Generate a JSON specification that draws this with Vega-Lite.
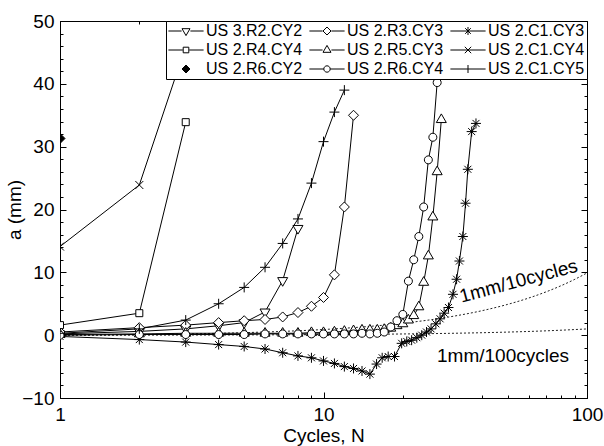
{
  "$schema": "https://vega.github.io/schema/vega-lite/v6.json",
  "width": 527,
  "height": 377,
  "autosize": {"type": "none"},
  "padding": {"left": 60, "top": 21, "right": 17, "bottom": 48},
  "config": {
    "font": "Liberation Sans",
    "view": {"stroke": "black", "strokeWidth": 1}
  },
  "datasets": {
    "main": [
      {"s": "US 3.R2.CY2", "x": 1, "y": 0.2}, {"s": "US 3.R2.CY2", "x": 2, "y": 0.6}, {"s": "US 3.R2.CY2", "x": 3, "y": 1.0}, {"s": "US 3.R2.CY2", "x": 4, "y": 1.5}, {"s": "US 3.R2.CY2", "x": 5, "y": 2.0}, {"s": "US 3.R2.CY2", "x": 6, "y": 3.7}, {"s": "US 3.R2.CY2", "x": 7, "y": 8.7}, {"s": "US 3.R2.CY2", "x": 8, "y": 17.0},
      {"s": "US 2.R3.CY3", "x": 1, "y": 0.5}, {"s": "US 2.R3.CY3", "x": 2, "y": 1.2}, {"s": "US 2.R3.CY3", "x": 3, "y": 1.6}, {"s": "US 2.R3.CY3", "x": 4, "y": 2.0}, {"s": "US 2.R3.CY3", "x": 5, "y": 2.3}, {"s": "US 2.R3.CY3", "x": 6, "y": 2.5}, {"s": "US 2.R3.CY3", "x": 7, "y": 2.9}, {"s": "US 2.R3.CY3", "x": 8, "y": 3.6}, {"s": "US 2.R3.CY3", "x": 9, "y": 4.6}, {"s": "US 2.R3.CY3", "x": 10, "y": 6.0}, {"s": "US 2.R3.CY3", "x": 11, "y": 9.6}, {"s": "US 2.R3.CY3", "x": 12, "y": 20.4}, {"s": "US 2.R3.CY3", "x": 13, "y": 35.0},
      {"s": "US 2.C1.CY3", "x": 1, "y": -0.2}, {"s": "US 2.C1.CY3", "x": 2, "y": -0.7}, {"s": "US 2.C1.CY3", "x": 3, "y": -1.1}, {"s": "US 2.C1.CY3", "x": 4, "y": -1.5}, {"s": "US 2.C1.CY3", "x": 5, "y": -1.8}, {"s": "US 2.C1.CY3", "x": 6, "y": -2.2}, {"s": "US 2.C1.CY3", "x": 7, "y": -2.8}, {"s": "US 2.C1.CY3", "x": 8, "y": -3.3}, {"s": "US 2.C1.CY3", "x": 9, "y": -3.6}, {"s": "US 2.C1.CY3", "x": 10, "y": -4.1}, {"s": "US 2.C1.CY3", "x": 11, "y": -4.5}, {"s": "US 2.C1.CY3", "x": 12, "y": -5.0}, {"s": "US 2.C1.CY3", "x": 13, "y": -5.3}, {"s": "US 2.C1.CY3", "x": 14, "y": -5.7}, {"s": "US 2.C1.CY3", "x": 15, "y": -6.2}, {"s": "US 2.C1.CY3", "x": 15.9, "y": -4.6}, {"s": "US 2.C1.CY3", "x": 16.7, "y": -3.6}, {"s": "US 2.C1.CY3", "x": 17.6, "y": -3.4}, {"s": "US 2.C1.CY3", "x": 18.6, "y": -3.4}, {"s": "US 2.C1.CY3", "x": 19.8, "y": -1.3}, {"s": "US 2.C1.CY3", "x": 20.7, "y": -1.0}, {"s": "US 2.C1.CY3", "x": 21.6, "y": -0.8}, {"s": "US 2.C1.CY3", "x": 22.6, "y": -0.4}, {"s": "US 2.C1.CY3", "x": 23.6, "y": 0.0}, {"s": "US 2.C1.CY3", "x": 24.6, "y": 0.5}, {"s": "US 2.C1.CY3", "x": 25.6, "y": 1.0}, {"s": "US 2.C1.CY3", "x": 26.7, "y": 1.8}, {"s": "US 2.C1.CY3", "x": 27.7, "y": 2.6}, {"s": "US 2.C1.CY3", "x": 28.7, "y": 3.5}, {"s": "US 2.C1.CY3", "x": 29.8, "y": 4.4}, {"s": "US 2.C1.CY3", "x": 31.0, "y": 6.5}, {"s": "US 2.C1.CY3", "x": 32.0, "y": 8.9}, {"s": "US 2.C1.CY3", "x": 32.8, "y": 11.8}, {"s": "US 2.C1.CY3", "x": 33.8, "y": 15.7}, {"s": "US 2.C1.CY3", "x": 34.6, "y": 21.0}, {"s": "US 2.C1.CY3", "x": 35.3, "y": 26.4}, {"s": "US 2.C1.CY3", "x": 36.5, "y": 32.4}, {"s": "US 2.C1.CY3", "x": 37.9, "y": 33.7},
      {"s": "US 2.R4.CY4", "x": 1, "y": 1.6}, {"s": "US 2.R4.CY4", "x": 2, "y": 3.5}, {"s": "US 2.R4.CY4", "x": 3, "y": 33.9},
      {"s": "US 2.R5.CY3", "x": 1, "y": 0.1}, {"s": "US 2.R5.CY3", "x": 2, "y": 0.2}, {"s": "US 2.R5.CY3", "x": 3, "y": 0.3}, {"s": "US 2.R5.CY3", "x": 4, "y": 0.3}, {"s": "US 2.R5.CY3", "x": 5, "y": 0.3}, {"s": "US 2.R5.CY3", "x": 6, "y": 0.3}, {"s": "US 2.R5.CY3", "x": 7, "y": 0.3}, {"s": "US 2.R5.CY3", "x": 8, "y": 0.3}, {"s": "US 2.R5.CY3", "x": 9, "y": 0.4}, {"s": "US 2.R5.CY3", "x": 10, "y": 0.4}, {"s": "US 2.R5.CY3", "x": 11, "y": 0.5}, {"s": "US 2.R5.CY3", "x": 12, "y": 0.6}, {"s": "US 2.R5.CY3", "x": 13, "y": 0.7}, {"s": "US 2.R5.CY3", "x": 14, "y": 0.8}, {"s": "US 2.R5.CY3", "x": 15, "y": 0.8}, {"s": "US 2.R5.CY3", "x": 16, "y": 0.8}, {"s": "US 2.R5.CY3", "x": 17, "y": 0.9}, {"s": "US 2.R5.CY3", "x": 18, "y": 1.1}, {"s": "US 2.R5.CY3", "x": 19, "y": 1.5}, {"s": "US 2.R5.CY3", "x": 20, "y": 1.8}, {"s": "US 2.R5.CY3", "x": 21, "y": 2.4}, {"s": "US 2.R5.CY3", "x": 22, "y": 3.1}, {"s": "US 2.R5.CY3", "x": 23, "y": 4.5}, {"s": "US 2.R5.CY3", "x": 24, "y": 8.4}, {"s": "US 2.R5.CY3", "x": 25, "y": 12.6}, {"s": "US 2.R5.CY3", "x": 26, "y": 18.8}, {"s": "US 2.R5.CY3", "x": 27, "y": 26.0}, {"s": "US 2.R5.CY3", "x": 28, "y": 34.3},
      {"s": "US 2.C1.CY4", "x": 1, "y": 14.1}, {"s": "US 2.C1.CY4", "x": 2, "y": 23.9}, {"s": "US 2.C1.CY4", "x": 3, "y": 46.0},
      {"s": "US 2.R6.CY2", "x": 1, "y": 31.3},
      {"s": "US 2.R6.CY4", "x": 1, "y": 0.0}, {"s": "US 2.R6.CY4", "x": 2, "y": 0.1}, {"s": "US 2.R6.CY4", "x": 3, "y": 0.1}, {"s": "US 2.R6.CY4", "x": 4, "y": 0.1}, {"s": "US 2.R6.CY4", "x": 5, "y": 0.1}, {"s": "US 2.R6.CY4", "x": 6, "y": 0.2}, {"s": "US 2.R6.CY4", "x": 7, "y": 0.2}, {"s": "US 2.R6.CY4", "x": 8, "y": 0.2}, {"s": "US 2.R6.CY4", "x": 9, "y": 0.2}, {"s": "US 2.R6.CY4", "x": 10, "y": 0.2}, {"s": "US 2.R6.CY4", "x": 11, "y": 0.2}, {"s": "US 2.R6.CY4", "x": 12, "y": 0.2}, {"s": "US 2.R6.CY4", "x": 13, "y": 0.2}, {"s": "US 2.R6.CY4", "x": 14, "y": 0.3}, {"s": "US 2.R6.CY4", "x": 15, "y": 0.2}, {"s": "US 2.R6.CY4", "x": 16, "y": 0.3}, {"s": "US 2.R6.CY4", "x": 17, "y": 0.5}, {"s": "US 2.R6.CY4", "x": 18, "y": 1.3}, {"s": "US 2.R6.CY4", "x": 19, "y": 2.3}, {"s": "US 2.R6.CY4", "x": 20, "y": 3.3}, {"s": "US 2.R6.CY4", "x": 21, "y": 8.6}, {"s": "US 2.R6.CY4", "x": 22, "y": 12.0}, {"s": "US 2.R6.CY4", "x": 23, "y": 15.7}, {"s": "US 2.R6.CY4", "x": 24, "y": 20.4}, {"s": "US 2.R6.CY4", "x": 25, "y": 27.9}, {"s": "US 2.R6.CY4", "x": 26, "y": 31.5}, {"s": "US 2.R6.CY4", "x": 27, "y": 40.2},
      {"s": "US 2.C1.CY5", "x": 1, "y": 0.3}, {"s": "US 2.C1.CY5", "x": 2, "y": 1.0}, {"s": "US 2.C1.CY5", "x": 3, "y": 2.4}, {"s": "US 2.C1.CY5", "x": 4, "y": 5.0}, {"s": "US 2.C1.CY5", "x": 5, "y": 7.6}, {"s": "US 2.C1.CY5", "x": 6, "y": 10.8}, {"s": "US 2.C1.CY5", "x": 7, "y": 14.6}, {"s": "US 2.C1.CY5", "x": 8, "y": 18.5}, {"s": "US 2.C1.CY5", "x": 9, "y": 24.2}, {"s": "US 2.C1.CY5", "x": 10, "y": 30.8}, {"s": "US 2.C1.CY5", "x": 11, "y": 35.5}, {"s": "US 2.C1.CY5", "x": 12, "y": 39.0}
    ],
    "ref": [
      {"r": "10", "x": 1, "y": 0.0}, {"r": "10", "x": 1.5, "y": 0.05}, {"r": "10", "x": 2, "y": 0.1}, {"r": "10", "x": 3, "y": 0.2}, {"r": "10", "x": 5, "y": 0.4}, {"r": "10", "x": 7, "y": 0.6}, {"r": "10", "x": 10, "y": 0.9}, {"r": "10", "x": 15, "y": 1.4}, {"r": "10", "x": 20, "y": 1.9}, {"r": "10", "x": 30, "y": 2.9}, {"r": "10", "x": 40, "y": 3.9}, {"r": "10", "x": 50, "y": 4.9}, {"r": "10", "x": 60, "y": 5.9}, {"r": "10", "x": 70, "y": 6.9}, {"r": "10", "x": 80, "y": 7.9}, {"r": "10", "x": 90, "y": 8.9}, {"r": "10", "x": 100, "y": 9.9},
      {"r": "100", "x": 1, "y": 0.0}, {"r": "100", "x": 2, "y": 0.01}, {"r": "100", "x": 5, "y": 0.04}, {"r": "100", "x": 10, "y": 0.09}, {"r": "100", "x": 20, "y": 0.19}, {"r": "100", "x": 30, "y": 0.29}, {"r": "100", "x": 50, "y": 0.49}, {"r": "100", "x": 70, "y": 0.69}, {"r": "100", "x": 100, "y": 0.99}
    ]
  },
  "layer": [
    {
      "data": {"name": "ref"},
      "mark": {"type": "line", "color": "#222", "strokeWidth": 1, "strokeDash": [2, 2], "interpolate": "monotone", "clip": true},
      "encoding": {
        "x": {"field": "x", "type": "quantitative", "scale": {"type": "log", "domain": [1, 100]},
          "axis": {"orient": "bottom", "title": "Cycles, N", "values": [1, 2, 3, 4, 5, 6, 7, 8, 9, 10, 20, 30, 40, 50, 60, 70, 80, 90, 100], "format": "d",
            "labelExpr": "(datum.value==1||datum.value==10||datum.value==100) ? datum.label : ''",
            "tickSize": {"condition": {"test": "datum.value==1||datum.value==10||datum.value==100", "value": -6}, "value": -3},
            "tickColor": "black", "domainColor": "black", "labelColor": "black", "labelFontSize": 19, "labelPadding": 13, "labelFlush": false, "labelOverlap": false,
            "titleFontSize": 19, "titleFontWeight": "normal", "titleColor": "black", "titlePadding": -1, "grid": false}},
        "y": {"field": "y", "type": "quantitative", "scale": {"domain": [-10, 50], "nice": false, "zero": false},
          "axis": {"orient": "left", "title": "a (mm)", "values": [-10, -8, -6, -4, -2, 0, 2, 4, 6, 8, 10, 12, 14, 16, 18, 20, 22, 24, 26, 28, 30, 32, 34, 36, 38, 40, 42, 44, 46, 48, 50],
            "labelExpr": "datum.value % 10 == 0 ? datum.label : ''",
            "tickSize": {"condition": {"test": "datum.value % 10 == 0", "value": -6}, "value": -3},
            "tickColor": "black", "domainColor": "black", "labelColor": "black", "labelFontSize": 19, "labelPadding": 12, "labelFlush": false, "labelOverlap": false,
            "titleFontSize": 19, "titleFontWeight": "normal", "titleColor": "black", "titlePadding": -3, "grid": false}},
        "detail": {"field": "r"}
      }
    },
    {
      "data": {"name": "main"},
      "mark": {"type": "line", "color": "black", "strokeWidth": 1, "clip": true},
      "encoding": {
        "x": {"field": "x", "type": "quantitative", "scale": {"type": "log", "domain": [1, 100]},
          "axis": {"orient": "top", "title": null, "labels": false, "values": [1, 2, 3, 4, 5, 6, 7, 8, 9, 10, 20, 30, 40, 50, 60, 70, 80, 90, 100],
            "tickSize": {"condition": {"test": "datum.value==1||datum.value==10||datum.value==100", "value": -6}, "value": -3},
            "tickColor": "black", "domainColor": "black", "grid": false}},
        "y": {"field": "y", "type": "quantitative", "scale": {"domain": [-10, 50], "nice": false, "zero": false},
          "axis": {"orient": "right", "title": null, "labels": false, "values": [-10, -8, -6, -4, -2, 0, 2, 4, 6, 8, 10, 12, 14, 16, 18, 20, 22, 24, 26, 28, 30, 32, 34, 36, 38, 40, 42, 44, 46, 48, 50],
            "tickSize": {"condition": {"test": "datum.value % 10 == 0", "value": -6}, "value": -3},
            "tickColor": "black", "domainColor": "black", "grid": false}},
        "detail": {"field": "s"}
      }
    },
    {
      "data": {"name": "main"},
      "mark": {"type": "point", "filled": false, "stroke": "black", "strokeWidth": 1, "size": 100, "opacity": 1, "clip": true},
      "encoding": {
        "x": {"field": "x", "type": "quantitative", "scale": {"type": "log", "domain": [1, 100]}, "axis": null},
        "y": {"field": "y", "type": "quantitative", "scale": {"domain": [-10, 50], "nice": false, "zero": false}, "axis": null},
        "shape": {"field": "s", "type": "nominal", "legend": null,
          "scale": {"domain": ["US 3.R2.CY2", "US 2.R3.CY3", "US 2.C1.CY3", "US 2.R4.CY4", "US 2.R5.CY3", "US 2.C1.CY4", "US 2.R6.CY2", "US 2.R6.CY4", "US 2.C1.CY5"],
            "range": ["M-1,-0.58L1,-0.58L0,1.15Z", "M-1,0L0,-1L1,0L0,1Z", "M0,-1V1M-1,0H1M-0.7,-0.7L0.7,0.7M-0.7,0.7L0.7,-0.7", "M-0.7,-0.7H0.7V0.7H-0.7Z", "M-1,0.58L1,0.58L0,-1.15Z", "M-0.8,-0.8L0.8,0.8M-0.8,0.8L0.8,-0.8", "M-1,0L0,-1L1,0L0,1Z", "M0.8,0A0.8,0.8,0,1,1,-0.8,0A0.8,0.8,0,1,1,0.8,0Z", "M-1,0H1M0,-1V1"]}},
        "fill": {"field": "s", "type": "nominal", "legend": null,
          "scale": {"domain": ["US 3.R2.CY2", "US 2.R3.CY3", "US 2.C1.CY3", "US 2.R4.CY4", "US 2.R5.CY3", "US 2.C1.CY4", "US 2.R6.CY2", "US 2.R6.CY4", "US 2.C1.CY5"],
            "range": ["white", "white", "white", "white", "white", "white", "black", "white", "white"]}}
      }
    },
    {
      "data": {"values": [{"x": 55, "y": 8.6, "t": "1mm/10cycles"}]},
      "mark": {"type": "text", "fontSize": 19, "angle": -15, "color": "black", "align": "center", "baseline": "middle"},
      "encoding": {
        "x": {"field": "x", "type": "quantitative", "scale": {"type": "log", "domain": [1, 100]}, "axis": null},
        "y": {"field": "y", "type": "quantitative", "scale": {"domain": [-10, 50], "nice": false, "zero": false}, "axis": null},
        "text": {"field": "t"}
      }
    },
    {
      "data": {"values": [{"x": 48, "y": -3.3, "t": "1mm/100cycles"}]},
      "mark": {"type": "text", "fontSize": 19, "color": "black", "align": "center", "baseline": "middle"},
      "encoding": {
        "x": {"field": "x", "type": "quantitative", "scale": {"type": "log", "domain": [1, 100]}, "axis": null},
        "y": {"field": "y", "type": "quantitative", "scale": {"domain": [-10, 50], "nice": false, "zero": false}, "axis": null},
        "text": {"field": "t"}
      }
    },
    {
      "data": {"name": "main"},
      "transform": [{"filter": "false"}],
      "mark": {"type": "point", "filled": false, "color": "black", "strokeWidth": 1, "opacity": 1},
      "encoding": {
        "x": {"field": "x", "type": "quantitative", "scale": {"type": "log", "domain": [1, 100]}, "axis": null},
        "y": {"field": "y", "type": "quantitative", "scale": {"domain": [-10, 50], "nice": false, "zero": false}, "axis": null},
        "shape": {"field": "s", "type": "nominal",
          "scale": {"domain": ["US 3.R2.CY2", "US 2.R4.CY4", "US 2.R6.CY2", "US 2.R3.CY3", "US 2.R5.CY3", "US 2.R6.CY4", "US 2.C1.CY3", "US 2.C1.CY4", "US 2.C1.CY5"],
            "range": ["M-4.4,0H-1.1M1.1,0H4.4M-1,-0.58L1,-0.58L0,1.15Z", "M-4.4,0H-0.8M0.8,0H4.4M-0.7,-0.7H0.7V0.7H-0.7Z", "M-1,0L0,-1L1,0L0,1ZM-0.125,-0.875H0.125M-0.375,-0.625H0.375M-0.625,-0.375H0.625M-0.875,-0.125H0.875M-0.875,0.125H0.875M-0.625,0.375H0.625M-0.375,0.625H0.375M-0.125,0.875H0.125", "M-4.4,0H-1.1M1.1,0H4.4M-1,0L0,-1L1,0L0,1Z", "M-4.4,0H-1.1M1.1,0H4.4M-1,0.58L1,0.58L0,-1.15Z", "M-4.4,0H-0.8M0.8,0H4.4M0.8,0A0.8,0.8,0,1,1,-0.8,0A0.8,0.8,0,1,1,0.8,0Z", "M-4.4,0H4.4M0,-1V1M-0.7,-0.7L0.7,0.7M-0.7,0.7L0.7,-0.7", "M-4.4,0H4.4M-0.8,-0.8L0.8,0.8M-0.8,0.8L0.8,-0.8", "M-4.4,0H4.4M0,-1V1"]},
          "legend": {"title": null, "orient": "top-right", "offset": 0, "columns": 3, "symbolSize": 64, "symbolStrokeColor": "black", "symbolStrokeWidth": 1, "symbolOffset": 10, "labelOffset": 12, "labelFontSize": 16, "labelColor": "black", "labelLimit": 300, "columnPadding": 4, "rowPadding": 3, "padding": 2, "strokeColor": "black", "fillColor": "white",
            "encode": {"symbols": {"stroke": {"value": "black"}, "strokeWidth": {"value": 1}, "opacity": {"value": 1}}}}}
      }
    }
  ],
  "resolve": {"scale": {"shape": "independent", "fill": "independent"}, "axis": {"x": "independent", "y": "independent"}}
}
